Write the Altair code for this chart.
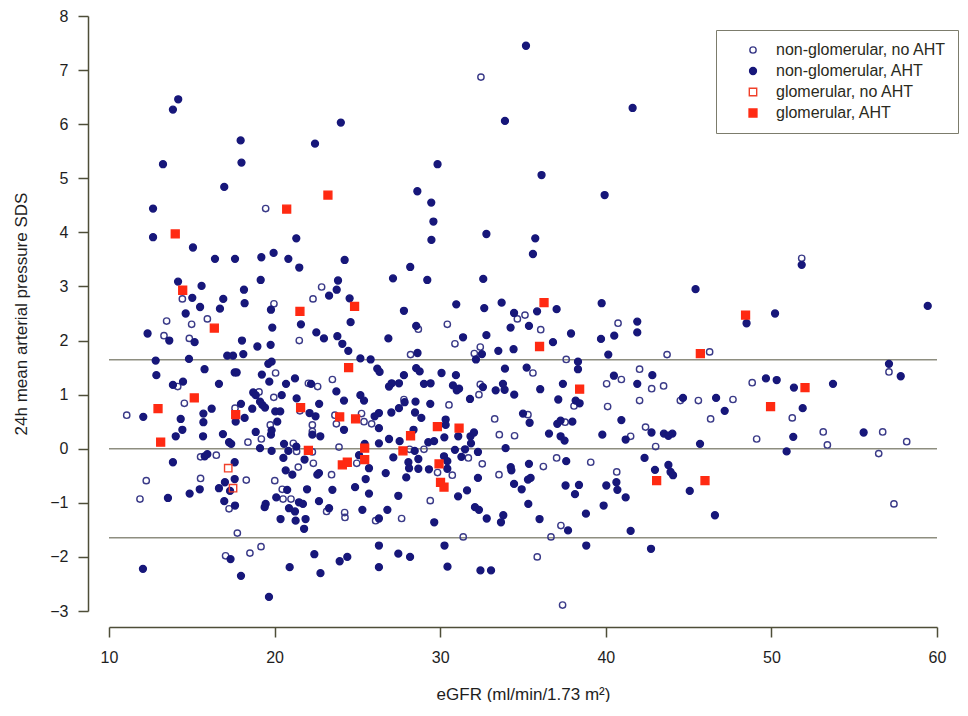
import altair as alt
import pandas as pd

categories = ["non-glomerular, no AHT", "non-glomerular, AHT",
              "glomerular, no AHT", "glomerular, AHT"]

# non-glomerular, no AHT (open navy circles)
ng_noaht_x = [19.46, 32.46, 51.83, 43.70, 46.27, 57.10, 43.49, 48.84, 44.50, 45.59, 47.68, 46.33,
              51.26, 49.11, 53.13, 53.38, 56.72, 56.48, 58.17, 57.40,
              28.15, 29.02, 29.84, 30.73, 31.70, 32.54, 33.57, 34.49, 33.29, 35.30, 37.54, 41.50,
              42.40, 43.01, 36.23, 37.03, 39.09, 40.66, 33.55, 29.40, 27.67, 37.29, 31.39, 36.69,
              35.86, 37.39,
              34.66, 35.12, 40.74, 28.68, 30.43, 36.07, 30.89, 32.42, 32.06, 28.21, 37.61, 35.60,
              32.42, 32.34, 38.08, 40.05, 40.94, 42.04, 42.77, 42.04, 40.11, 30.53, 27.81,
              22.84, 14.43, 22.32, 19.96, 13.48, 15.94, 14.99, 13.32, 14.85, 21.49, 20.06, 14.15,
              22.04, 22.60, 23.49, 19.06, 19.95, 14.55, 11.07, 17.61, 21.53, 23.64, 25.25,
              18.39, 19.20, 19.74, 21.13, 21.33, 22.28, 22.28, 22.28, 23.73, 25.40, 25.86, 23.89,
              24.96, 26.10, 24.23, 24.25, 23.14, 23.44, 22.34, 21.43, 20.01, 20.46, 20.51, 20.99,
              17.04, 18.51, 19.18, 17.75, 12.25, 11.87, 15.53, 16.48, 15.53, 18.29, 17.25]
ng_noaht_y = [4.44, 6.87, 3.52, 1.74, 1.79, 1.42, 1.16, 1.22, 0.89, 0.89, 0.91, 0.55,
              0.57, 0.18, 0.31, 0.07, 0.31, -0.09, 0.13, -1.02,
              -0.01, -0.01, -0.44, -0.49, -0.17, -0.28, 0.26, 0.24, 0.55, 0.63, 0.49, 0.23,
              0.40, 0.04, -0.33, -0.17, -0.25, -0.43, -0.48, -0.96, -1.29, -1.42, -1.63, -1.63,
              -2.00, -2.89,
              2.40, 2.47, 2.32, 2.21, 2.30, 2.20, 1.94, 1.88, 1.76, 1.74, 1.65, 1.40,
              1.19, 1.00, 0.79, 1.20, 1.28, 1.47, 1.11, 0.89, 0.78, 0.81, 0.91,
              2.99, 2.77, 2.77, 2.68, 2.36, 2.40, 2.30, 2.09, 2.04, 2.00, 1.40, 1.15,
              1.21, 1.15, 1.28, 1.05, 0.95, 0.84, 0.62, 0.75, 0.70, 0.62, 0.65,
              0.12, 0.18, 0.44, 0.10, -0.05, -0.06, 0.32, 0.44, 0.46, 0.50, 0.46, 0.03,
              -0.27, -1.33, -1.18, -1.27, -1.16, -0.48, -0.27, -0.34, -0.59, -0.75, -0.93, -0.93,
              -1.98, -1.93, -1.81, -1.56, -0.59, -0.93, -0.15, -0.12, -0.55, -0.58, -1.11]

# non-glomerular, AHT (filled navy circles)
ng_aht_x = [14.18, 13.86, 24.00, 17.95, 22.44, 13.26, 18.00, 16.96, 12.66,
            35.18, 41.62, 33.91, 29.84, 36.12, 28.62, 29.46, 39.93,
            29.59, 29.47, 32.79, 35.74, 35.60, 28.19, 27.15, 29.22, 32.60, 27.81, 30.97, 32.66,
            33.71, 35.85, 37.03, 34.46, 39.75, 41.90, 41.90, 28.55, 34.25, 35.36, 37.90, 36.81,
            39.71, 40.51, 40.15, 26.87, 31.38, 32.79, 33.51, 34.43, 32.52, 32.16, 28.63, 38.32,
            38.32, 27.07, 26.91, 27.51, 27.81, 28.55, 28.76, 30.08, 30.95, 29.02, 29.42,
            30.77, 31.14, 31.00, 32.58, 33.35, 33.79, 33.89, 33.91, 35.22, 34.47, 36.04, 37.41,
            37.13, 38.18, 38.42, 40.49, 41.90, 42.81, 31.80, 29.40, 28.51, 27.85, 27.51,
            51.83, 45.42, 48.50, 50.22, 59.44, 57.10, 57.81, 49.67, 50.32, 51.36, 53.72, 44.66,
            46.66, 47.18, 51.89,
            43.51, 43.78, 44.02, 45.69, 51.32, 50.92, 55.57, 43.78, 43.91, 44.06, 45.07, 46.59,
            27.05, 28.48, 28.86, 26.30, 26.91, 27.55, 26.30, 28.39, 28.46, 29.28, 29.63, 30.33,
            30.33, 30.25, 31.09, 31.83, 32.04, 31.86, 30.89, 31.50, 32.28, 27.17, 28.08, 28.12,
            28.68, 28.68, 29.32, 26.71, 27.95, 30.23, 30.43, 30.43, 31.28, 32.28, 33.95, 35.00,
            35.40, 37.07, 37.27, 37.98, 36.57, 37.27, 37.51, 39.79, 40.94, 41.20, 42.76, 42.34,
            42.97, 35.36, 34.26, 34.30, 37.61, 34.46, 34.92, 35.30, 35.46, 37.57, 38.38, 38.14,
            40.03, 40.64, 40.70, 41.20, 39.87, 38.80, 31.62, 31.08, 27.47, 26.81, 26.30, 29.64,
            32.10, 32.34, 32.81, 33.81, 33.67, 35.32, 36.00, 37.72, 38.82, 41.50, 42.73, 26.30,
            27.47, 28.18, 30.26, 26.30, 30.44, 32.43, 33.07,
            12.66, 15.07, 21.31, 16.40, 17.61, 19.20, 19.94, 20.83, 21.49, 24.23, 19.16, 14.17,
            15.59, 18.15, 23.29, 23.75, 23.83, 15.03, 15.50, 16.90, 16.70, 18.19, 24.53, 19.78,
            14.63, 21.59, 19.86, 24.59, 12.33, 13.64, 15.17, 18.03, 18.96, 19.76, 22.52, 22.98,
            23.79, 24.09, 24.45, 18.11, 17.14, 17.49, 12.82, 14.83, 25.18, 25.80, 19.82, 19.62,
            26.20, 26.34, 15.77, 17.59, 17.71, 12.86, 19.23, 21.23, 19.68, 16.64, 13.86, 14.47,
            20.69, 22.20, 23.73, 24.19, 25.18, 25.40, 18.71, 18.86, 19.12, 19.26, 19.42, 20.43,
            21.33, 12.07, 14.33, 15.70, 16.20, 17.97, 18.65, 20.04, 20.34, 22.11, 22.47, 22.69,
            26.04, 26.30,
            14.43, 14.03, 15.70, 15.68, 17.65, 18.19, 16.88, 17.25, 17.38, 18.86, 19.78, 19.82,
            20.16, 19.12, 19.82, 20.57, 20.83, 21.31, 22.28, 22.76, 24.19, 25.44, 25.10, 25.70,
            25.50, 24.86, 25.70, 25.30, 23.29, 23.49, 22.68, 22.58, 21.81, 20.67, 21.07, 20.53,
            20.76, 20.10, 19.46, 19.40, 20.87, 21.23, 21.47, 21.71, 21.96, 22.68, 20.36, 21.27,
            21.87, 21.78, 24.39, 23.93, 22.77, 22.40, 20.91, 19.66, 17.97, 17.34, 12.05, 13.86,
            13.56, 15.94, 15.78, 17.59, 17.59, 17.00, 16.64, 15.48, 14.87, 17.31, 16.96, 17.61]
ng_aht_y = [6.46, 6.27, 6.03, 5.70, 5.64, 5.26, 5.29, 4.84, 4.44,
            7.45, 6.30, 6.06, 5.26, 5.06, 4.76, 4.55, 4.69,
            4.20, 3.86, 3.97, 3.89, 3.60, 3.36, 3.15, 3.12, 3.14, 2.55, 2.67, 2.60,
            2.70, 2.54, 2.58, 2.51, 2.69, 2.35, 2.15, 2.27, 2.24, 2.27, 2.13, 1.97,
            2.03, 2.09, 1.74, 2.04, 2.06, 2.10, 1.81, 1.84, 1.75, 1.65, 1.77, 1.61,
            1.47, 1.21, 1.15, 1.21, 1.36, 1.49, 1.43, 1.40, 1.36, 1.20, 1.21,
            1.17, 1.11, 1.08, 1.14, 1.08, 1.20, 1.09, 1.48, 1.50, 1.00, 1.10, 1.20,
            0.91, 0.89, 0.84, 1.35, 1.20, 1.36, 0.92, 0.83, 0.87, 0.86, 0.75,
            3.40, 2.95, 2.32, 2.50, 2.64, 1.57, 1.34, 1.30, 1.27, 1.13, 1.20, 0.94,
            0.94, 0.70, 0.75,
            0.28, 0.24, 0.28, 0.09, 0.22, -0.05, 0.30, -0.30, -0.43, -0.49, -0.78, -1.23,
            0.67, 0.67, 0.57, 0.38, 0.18, 0.14, 0.10, 0.35, -0.04, 0.12, 0.14, 0.54,
            0.44, 0.21, 0.23, 0.23, 0.30, 0.10, -0.02, -0.01, -0.06, -0.16, -0.25, -0.36,
            -0.19, -0.37, -0.38, -0.45, -0.53, -0.14, -0.23, -0.37, -0.15, -0.54, 0.01, 0.65,
            0.48, 0.46, 0.52, 0.50, 0.28, 0.23, 0.15, 0.26, 0.53, 0.17, 0.30, -0.17,
            -0.39, -0.28, -0.34, -0.40, -0.23, -0.65, -0.75, -0.57, -0.54, -0.68, -0.67, -0.84,
            -0.68, -0.62, -0.76, -0.90, -1.05, -1.20, -0.77, -0.88, -0.87, -1.13, -1.29, -1.36,
            -1.08, -1.13, -1.29, -1.23, -1.36, -1.02, -1.30, -1.51, -1.79, -1.52, -1.85, -1.79,
            -1.94, -2.00, -1.79, -2.19, -2.18, -2.25, -2.25,
            3.91, 3.72, 3.89, 3.51, 3.51, 3.54, 3.62, 3.51, 3.35, 3.49, 3.12, 3.09,
            3.01, 2.94, 2.83, 2.94, 3.11, 2.79, 2.62, 2.77, 2.59, 2.69, 2.78, 2.57,
            2.50, 2.30, 2.24, 2.34, 2.13, 2.00, 1.97, 2.00, 1.89, 1.92, 2.15, 2.04,
            2.08, 1.94, 1.81, 1.75, 1.72, 1.72, 1.63, 1.66, 1.67, 1.65, 1.61, 1.57,
            1.48, 1.42, 1.47, 1.41, 1.41, 1.36, 1.37, 1.30, 1.24, 1.20, 1.18, 1.24,
            1.20, 1.20, 1.06, 0.89, 0.99, 0.89, 1.04, 0.99, 0.87, 0.81, 0.76, 0.99,
            0.93, 0.59, 0.55, 0.65, 0.74, 0.83, 0.74, 0.69, 0.69, 0.66, 0.60, 0.83,
            0.60, 0.66,
            0.35, 0.23, 0.49, 0.23, 0.50, 0.57, 0.27, 0.12, 0.09, 0.31, 0.26, 0.34,
            0.50, 0.01, -0.04, 0.09, -0.04, 0.04, 0.26, 0.23, 0.35, 0.09, -0.12, -0.36,
            -0.56, -0.71, -0.83, -1.13, -1.10, -0.76, -0.45, -0.48, -0.20, -0.40, -0.48, -0.17,
            -0.76, -0.90, -1.02, -1.08, -1.10, -1.16, -0.99, -1.02, -0.75, -0.97, -1.30, -1.33,
            -1.30, -1.48, -2.00, -2.08, -2.30, -1.95, -2.19, -2.74, -2.35, -2.04, -2.22, -0.25,
            -0.91, -0.10, -0.14, -0.25, -0.56, -0.62, -0.73, -0.75, -0.83, -0.78, -0.97, -1.05]

# glomerular, no AHT (open red squares)
g_noaht_x = [17.20, 17.49]
g_noaht_y = [-0.36, -0.73]

# glomerular, AHT (filled red squares)
g_aht_x = [20.73, 23.22, 48.44, 45.71, 52.03, 49.95, 45.99, 28.21, 27.75, 29.83, 31.14, 29.93,
           30.02, 30.23, 43.07, 36.27, 36.00, 38.42, 14.00, 14.45, 24.83, 21.53, 16.36, 24.47,
           15.15, 12.96, 17.65, 21.57, 23.93, 24.89, 13.12, 22.04, 25.44, 25.44, 24.09, 24.39]
g_aht_y = [4.43, 4.69, 2.47, 1.76, 1.13, 0.78, -0.59, 0.24, -0.04, 0.41, 0.38, -0.28,
           -0.62, -0.71, -0.59, 2.70, 1.89, 1.10, 3.97, 2.93, 2.63, 2.54, 2.23, 1.50,
           0.94, 0.74, 0.63, 0.76, 0.59, 0.55, 0.12, -0.03, 0.01, -0.20, -0.30, -0.25]

ref_lines = [1.645, 0.0, -1.645]
x_ticks = [10, 20, 30, 40, 50, 60]
y_ticks = [-3, -2, -1, 0, 1, 2, 3, 4, 5, 6, 7, 8]

rows = []
for cat, xs, ys in zip(categories,
                       [ng_noaht_x, ng_aht_x, g_noaht_x, g_aht_x],
                       [ng_noaht_y, ng_aht_y, g_noaht_y, g_aht_y]):
    for xv, yv in zip(xs, ys):
        rows.append({"eGFR": xv, "SDS": yv, "group": cat})
df = pd.DataFrame(rows)
ref_df = pd.DataFrame({"SDS": ref_lines})

NAVY = "#17177a"
NAVY_OPEN = "#3a3a88"
RED = "#ff2a12"
RED_OPEN = "#f0402a"
AXIS_COL = "#4e4e38"
TEXT_COL = "#1e1e1e"
FONT = "Liberation Sans"

shape_range = ["circle", "circle", "square", "square"]
fill_range = ["transparent", NAVY, "transparent", RED]
stroke_range = [NAVY_OPEN, NAVY, RED_OPEN, RED]
size_range = [40, 62, 48, 66]

leg = alt.Legend(title=None, symbolOffset=17, labelOffset=15, labelLimit=400)

x_enc = alt.X("eGFR:Q",
              scale=alt.Scale(domain=[10, 60], nice=False, zero=False),
              axis=alt.Axis(values=x_ticks, title="eGFR (ml/min/1.73 m²)", offset=16,
                            labelFlush=False, labelPadding=12, titlePadding=21,
                            format="d"))
y_enc = alt.Y("SDS:Q",
              scale=alt.Scale(domain=[-3, 8], nice=False, zero=False),
              axis=alt.Axis(values=y_ticks, title="24h mean arterial pressure SDS", offset=21,
                            labelPadding=10, titlePadding=19, format="d"))

rules = alt.Chart(ref_df).mark_rule(color="#8e8e80", strokeWidth=1.4).encode(y=y_enc)

points = alt.Chart(df).mark_point(opacity=1, strokeWidth=1.4).encode(
    x=x_enc,
    y=alt.Y("SDS:Q"),
    shape=alt.Shape("group:N", scale=alt.Scale(domain=categories, range=shape_range), legend=leg),
    fill=alt.Fill("group:N", scale=alt.Scale(domain=categories, range=fill_range), legend=leg),
    stroke=alt.Stroke("group:N", scale=alt.Scale(domain=categories, range=stroke_range), legend=leg),
    size=alt.Size("group:N", scale=alt.Scale(domain=categories, range=size_range), legend=leg),
)

chart = alt.layer(rules, points).properties(
    width=828, height=595,
    padding={"left": 4, "top": 0, "right": 0, "bottom": 0},
).configure_view(stroke=None).configure_axis(
    grid=False, domainColor=AXIS_COL, tickColor=AXIS_COL, domainWidth=1.5, tickWidth=1.5,
    tickSize=10, labelFont=FONT, labelFontSize=16, labelColor=TEXT_COL,
    titleFont=FONT, titleFontSize=17, titleFontWeight="normal", titleColor=TEXT_COL,
).configure_legend(
    orient="none", legendX=607, legendY=14, padding=12, strokeColor="#7c7c6c",
    fillColor="white", labelFont=FONT, labelFontSize=16, labelColor="#2a2a20",
    rowPadding=5, symbolStrokeWidth=1.4,
)

chart.save("out.html", embed_options={"renderer": "svg", "actions": False})
